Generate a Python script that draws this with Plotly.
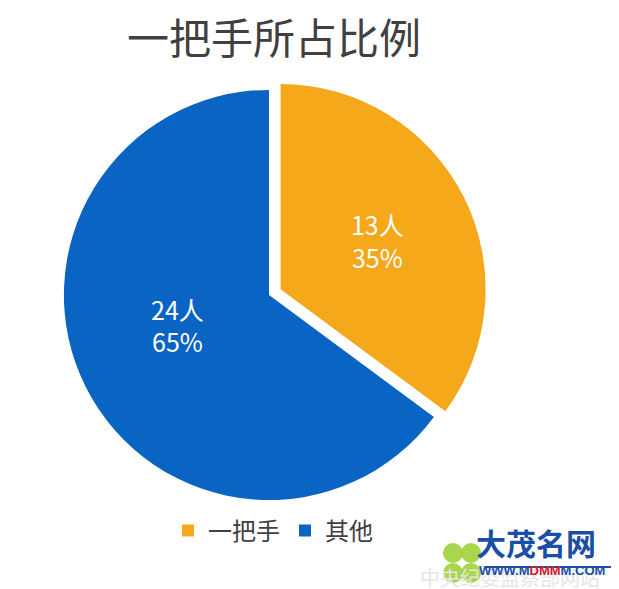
import plotly.graph_objects as go

labels = ["一把手", "其他"]
values = [13, 24]
colors = ["#F6A81B", "#0A64C3"]
pulls = [0.063, 0]
title_text = "一把手所占比例"
text_templates = ["%{value}人<br>%{percent:.0%}", "%{value}人<br>%{percent:.0%}<br> "]

W, H = 619, 589
ml, mr, mt, mb = 43, 140, 69, 84
PW, PH = W - ml - mr, H - mt - mb


def px(x):
    return (x - ml) / PW


def py(y):
    return (H - mb - y) / PH


fig = go.Figure(go.Pie(
    labels=labels,
    values=values,
    sort=False,
    direction="clockwise",
    rotation=0,
    pull=pulls,
    marker=dict(colors=colors, line=dict(width=0)),
    texttemplate=text_templates,
    textposition="inside",
    insidetextorientation="horizontal",
    textfont=dict(color="white", size=25, family="Noto Sans CJK SC"),
    hoverinfo="label+value+percent",
))

fig.update_layout(
    width=W, height=H,
    margin=dict(l=ml, r=mr, t=mt, b=mb, autoexpand=False),
    paper_bgcolor="white",
    plot_bgcolor="white",
    font=dict(family="Noto Sans CJK SC", color="#404040"),
    title=dict(
        text=title_text,
        x=119 / W, xanchor="left", xref="container",
        y=1 - 31 / H, yanchor="middle", yref="container",
        font=dict(size=42, color="#404040", family="Noto Sans CJK SC"),
    ),
    legend=dict(
        orientation="h",
        x=px(160), xanchor="left",
        y=py(523), yanchor="middle",
        font=dict(size=24, color="#404040", family="Noto Sans CJK SC"),
        itemwidth=30,
        traceorder="normal",
    ),
    showlegend=True,
)

# watermark-like decoration at bottom right
fig.add_annotation(text="中央纪委监察部网站", xref="paper", yref="paper",
                   x=px(410), xanchor="left", y=py(569), yanchor="middle",
                   showarrow=False, font=dict(size=20, color="#e6e6e6"))
for (cx, cy) in [(445, 545), (463, 545), (445, 565), (463, 565)]:
    fig.add_shape(type="circle", xref="paper", yref="paper",
                  x0=px(cx - 10), x1=px(cx + 10),
                  y0=py(cy + 10), y1=py(cy - 10),
                  fillcolor="#9fd33a", line=dict(width=0), opacity=0.9)
fig.add_annotation(text="<b>大茂名网</b>", xref="paper", yref="paper",
                   x=px(466), xanchor="left", y=py(534), yanchor="middle",
                   showarrow=False, font=dict(size=30, color="#1b4fa6"))
fig.add_shape(type="line", xref="paper", yref="paper",
              x0=px(478), x1=px(606), y0=py(559), y1=py(559),
              line=dict(color="#1b4fa6", width=2))
fig.add_annotation(text="<b>WWW.M<span style='color:#d0202a'>DMM</span>M.COM</b>",
                   xref="paper", yref="paper",
                   x=px(469), xanchor="left", y=py(562), yanchor="middle",
                   showarrow=False, font=dict(size=13, color="#1b4fa6", family="Liberation Sans"))

fig.write_html("out.html")
